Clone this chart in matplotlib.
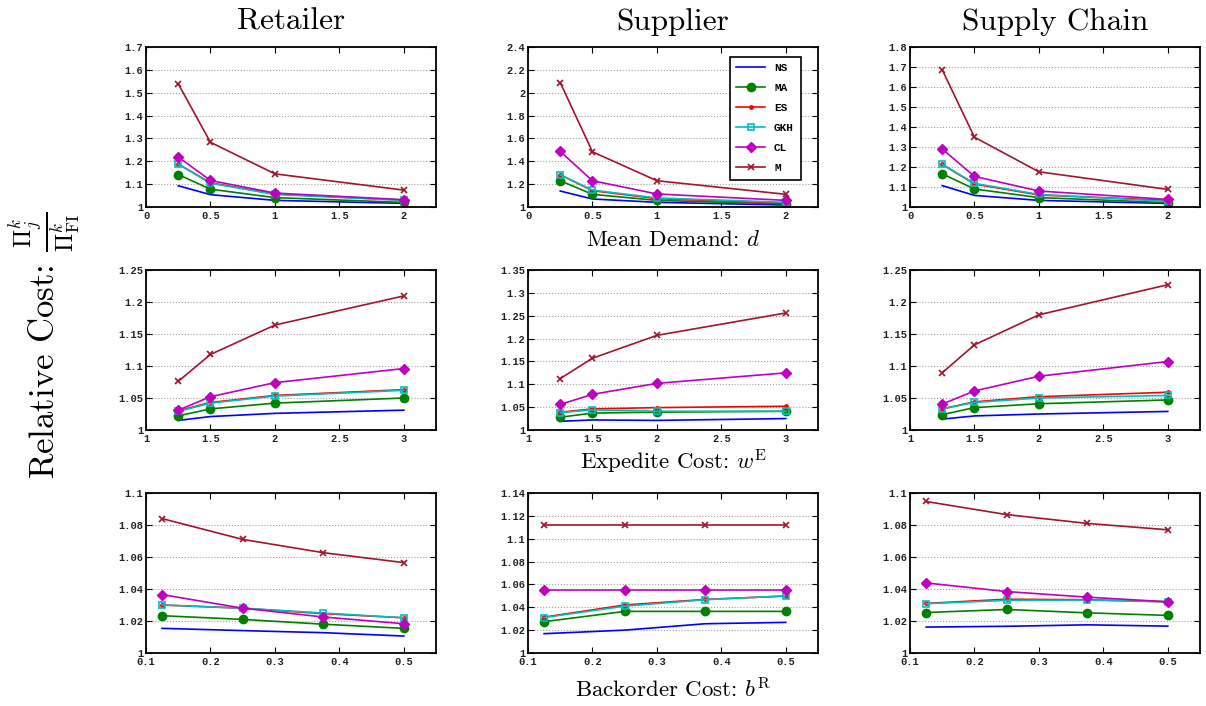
import matplotlib
matplotlib.use("Agg")
import matplotlib.pyplot as plt
import numpy as np

plt.rcParams['mathtext.fontset'] = 'cm'

series_names = ["NS", "MA", "ES", "GKH", "CL", "M"]

x_demand = [0.25, 0.5, 1, 2]
x_expedite = [1.25, 1.5, 2, 3]
x_backorder = [0.125, 0.25, 0.375, 0.5]

# Row 1: mean demand
ret_demand = {
    "NS": [1.093, 1.054, 1.029, 1.016],
    "MA": [1.142, 1.078, 1.041, 1.020],
    "ES": [1.188, 1.106, 1.057, 1.030],
    "GKH": [1.187, 1.104, 1.055, 1.029],
    "CL": [1.219, 1.116, 1.061, 1.032],
    "M": [1.539, 1.283, 1.145, 1.074],
}
sup_demand = {
    "NS": [1.140, 1.070, 1.041, 1.017],
    "MA": [1.230, 1.111, 1.058, 1.026],
    "ES": [1.282, 1.143, 1.073, 1.035],
    "GKH": [1.282, 1.148, 1.079, 1.041],
    "CL": [1.486, 1.230, 1.114, 1.058],
    "M": [2.089, 1.483, 1.230, 1.111],
}
sc_demand = {
    "NS": [1.107, 1.058, 1.033, 1.018],
    "MA": [1.166, 1.090, 1.047, 1.022],
    "ES": [1.213, 1.115, 1.060, 1.033],
    "GKH": [1.213, 1.118, 1.063, 1.028],
    "CL": [1.290, 1.153, 1.080, 1.038],
    "M": [1.686, 1.349, 1.176, 1.088],
}
# Row 2: expedite cost
ret_exp = {
    "NS": [1.015, 1.021, 1.026, 1.031],
    "MA": [1.022, 1.033, 1.042, 1.050],
    "ES": [1.030, 1.043, 1.054, 1.063],
    "GKH": [1.029, 1.042, 1.053, 1.062],
    "CL": [1.031, 1.052, 1.074, 1.096],
    "M": [1.076, 1.118, 1.164, 1.2095],
}
sup_exp = {
    "NS": [1.019, 1.022, 1.021, 1.025],
    "MA": [1.028, 1.037, 1.039, 1.041],
    "ES": [1.039, 1.046, 1.049, 1.052],
    "GKH": [1.038, 1.044, 1.041, 1.041],
    "CL": [1.056, 1.078, 1.102, 1.125],
    "M": [1.1125, 1.157, 1.207, 1.256],
}
sc_exp = {
    "NS": [1.017, 1.022, 1.025, 1.029],
    "MA": [1.024, 1.035, 1.041, 1.047],
    "ES": [1.033, 1.044, 1.052, 1.059],
    "GKH": [1.033, 1.043, 1.050, 1.054],
    "CL": [1.0405, 1.061, 1.084, 1.107],
    "M": [1.0894, 1.133, 1.180, 1.227],
}
# Row 3: backorder cost
ret_back = {
    "NS": [1.0154, 1.014, 1.0127, 1.0106],
    "MA": [1.0233, 1.021, 1.018, 1.0154],
    "ES": [1.030, 1.028, 1.0246, 1.022],
    "GKH": [1.030, 1.028, 1.025, 1.022],
    "CL": [1.0365, 1.028, 1.0225, 1.0183],
    "M": [1.084, 1.071, 1.0627, 1.0565],
}
sup_back = {
    "NS": [1.0169, 1.020, 1.0256, 1.0268],
    "MA": [1.0274, 1.0364, 1.0364, 1.0364],
    "ES": [1.0314, 1.042, 1.0469, 1.0498],
    "GKH": [1.031, 1.041, 1.0466, 1.050],
    "CL": [1.0553, 1.0553, 1.0553, 1.0553],
    "M": [1.1123, 1.1123, 1.1123, 1.1123],
}
sc_back = {
    "NS": [1.0162, 1.0167, 1.0176, 1.0168],
    "MA": [1.0253, 1.0272, 1.0251, 1.0235],
    "ES": [1.031, 1.0336, 1.0333, 1.032],
    "GKH": [1.0308, 1.0329, 1.0331, 1.032],
    "CL": [1.0438, 1.0384, 1.0349, 1.032],
    "M": [1.0947, 1.0865, 1.081, 1.077],
}

col_titles = ["Retailer", "Supplier", "Supply Chain"]
row_xlabels = [r"Mean Demand: $d$",
               r"Expedite Cost: $w^{\mathrm{E}}$",
               r"Backorder Cost: $b^{\mathrm{R}}$"]
ylabel_text = r"Relative Cost: $\frac{\Pi_j^k}{\Pi_{\mathrm{FI}}^k}$"

styles = {
    "NS": dict(color="#0000ff", marker=None),
    "MA": dict(color="#008000", marker="o", markersize=6, markerfacecolor="#008000"),
    "ES": dict(color="#ff0000", marker=".", markersize=5),
    "GKH": dict(color="#00bfbf", marker="s", markersize=5, markerfacecolor="none", markeredgewidth=1.2),
    "CL": dict(color="#bf00bf", marker="D", markersize=5, markerfacecolor="#bf00bf"),
    "M": dict(color="#a3142e", marker="x", markersize=5, markeredgewidth=1.2),
}

grid_data = [
    [(x_demand, ret_demand), (x_demand, sup_demand), (x_demand, sc_demand)],
    [(x_expedite, ret_exp), (x_expedite, sup_exp), (x_expedite, sc_exp)],
    [(x_backorder, ret_back), (x_backorder, sup_back), (x_backorder, sc_back)],
]
xlims = [(0, 2.25), (1, 3.25), (0.1, 0.55)]
xticks = [[0, 0.5, 1, 1.5, 2], [1, 1.5, 2, 2.5, 3], [0.1, 0.2, 0.3, 0.4, 0.5]]
ylims = [[(1, 1.7), (1, 2.4), (1, 1.8)],
         [(1, 1.25), (1, 1.35), (1, 1.25)],
         [(1, 1.1), (1, 1.14), (1, 1.1)]]
ysteps = [[0.1, 0.2, 0.1], [0.05, 0.05, 0.05], [0.02, 0.02, 0.02]]

def fmt(v):
    return ("%.2f" % v).rstrip("0").rstrip(".")

fig = plt.figure(figsize=(12.06, 7.06), dpi=100)
left0 = 146 / 1206
colstep = 382 / 1206
width = 290 / 1206
bottoms = [1 - 207 / 706, 1 - 430 / 706, 1 - 653 / 706]
height = 160 / 706

mono = "Liberation Mono"
serif = "cmr10"
for r in range(3):
    for c in range(3):
        ax = fig.add_axes([left0 + c * colstep, bottoms[r], width, height])
        xs, d = grid_data[r][c]
        for name in series_names:
            ax.plot(xs, d[name], linewidth=1.2, label=name, **styles[name])
        ax.set_xlim(*xlims[r])
        ax.set_xticks(xticks[r])
        ax.set_xticklabels([fmt(v) for v in xticks[r]])
        y0, y1 = ylims[r][c]
        step = ysteps[r][c]
        yt = np.round(np.arange(y0, y1 + step / 2, step), 4)
        ax.set_ylim(y0, y1)
        ax.set_yticks(yt)
        ax.set_yticklabels([fmt(v) for v in yt])
        ax.tick_params(direction="in", top=True, right=True, length=4, width=0.8,
                       labelsize=7.5, pad=2, labelcolor="#222222")
        ax.tick_params(axis="x", pad=3)
        for lab in ax.get_xticklabels() + ax.get_yticklabels():
            lab.set_family(mono)
            lab.set_weight("bold")
        ax.yaxis.grid(True, linestyle=":", color="#a0a0a0", linewidth=0.8)
        ax.set_axisbelow(True)
        for sp in ax.spines.values():
            sp.set_linewidth(1.3)
        if r == 0:
            fig.text(left0 + c * colstep + width / 2, 1 - 22 / 706,
                     col_titles[c], family=serif,
                     ha="center", va="center", fontsize=22.5)
        if c == 1:
            ypos = [240, 462, 689][r]
            fig.text(left0 + c * colstep + width / 2, 1 - ypos / 706,
                     row_xlabels[r], family=serif,
                     ha="center", va="center", fontsize=16.5)
        if r == 0 and c == 1:
            leg = ax.legend(loc="upper right", bbox_to_anchor=(0.94, 0.94),
                            borderaxespad=0, fancybox=False, framealpha=1,
                            edgecolor="black", prop={"family": mono, "size": 8, "weight": "bold"},
                            handlelength=2.6, labelspacing=0.9, borderpad=0.6)
            leg.get_frame().set_linewidth(1.2)

fig.text(45 / 1206, 1 - 345 / 706, ylabel_text, family=serif,
         rotation=90, ha="center", va="center", fontsize=25)

fig.savefig("out.png", dpi=100)
